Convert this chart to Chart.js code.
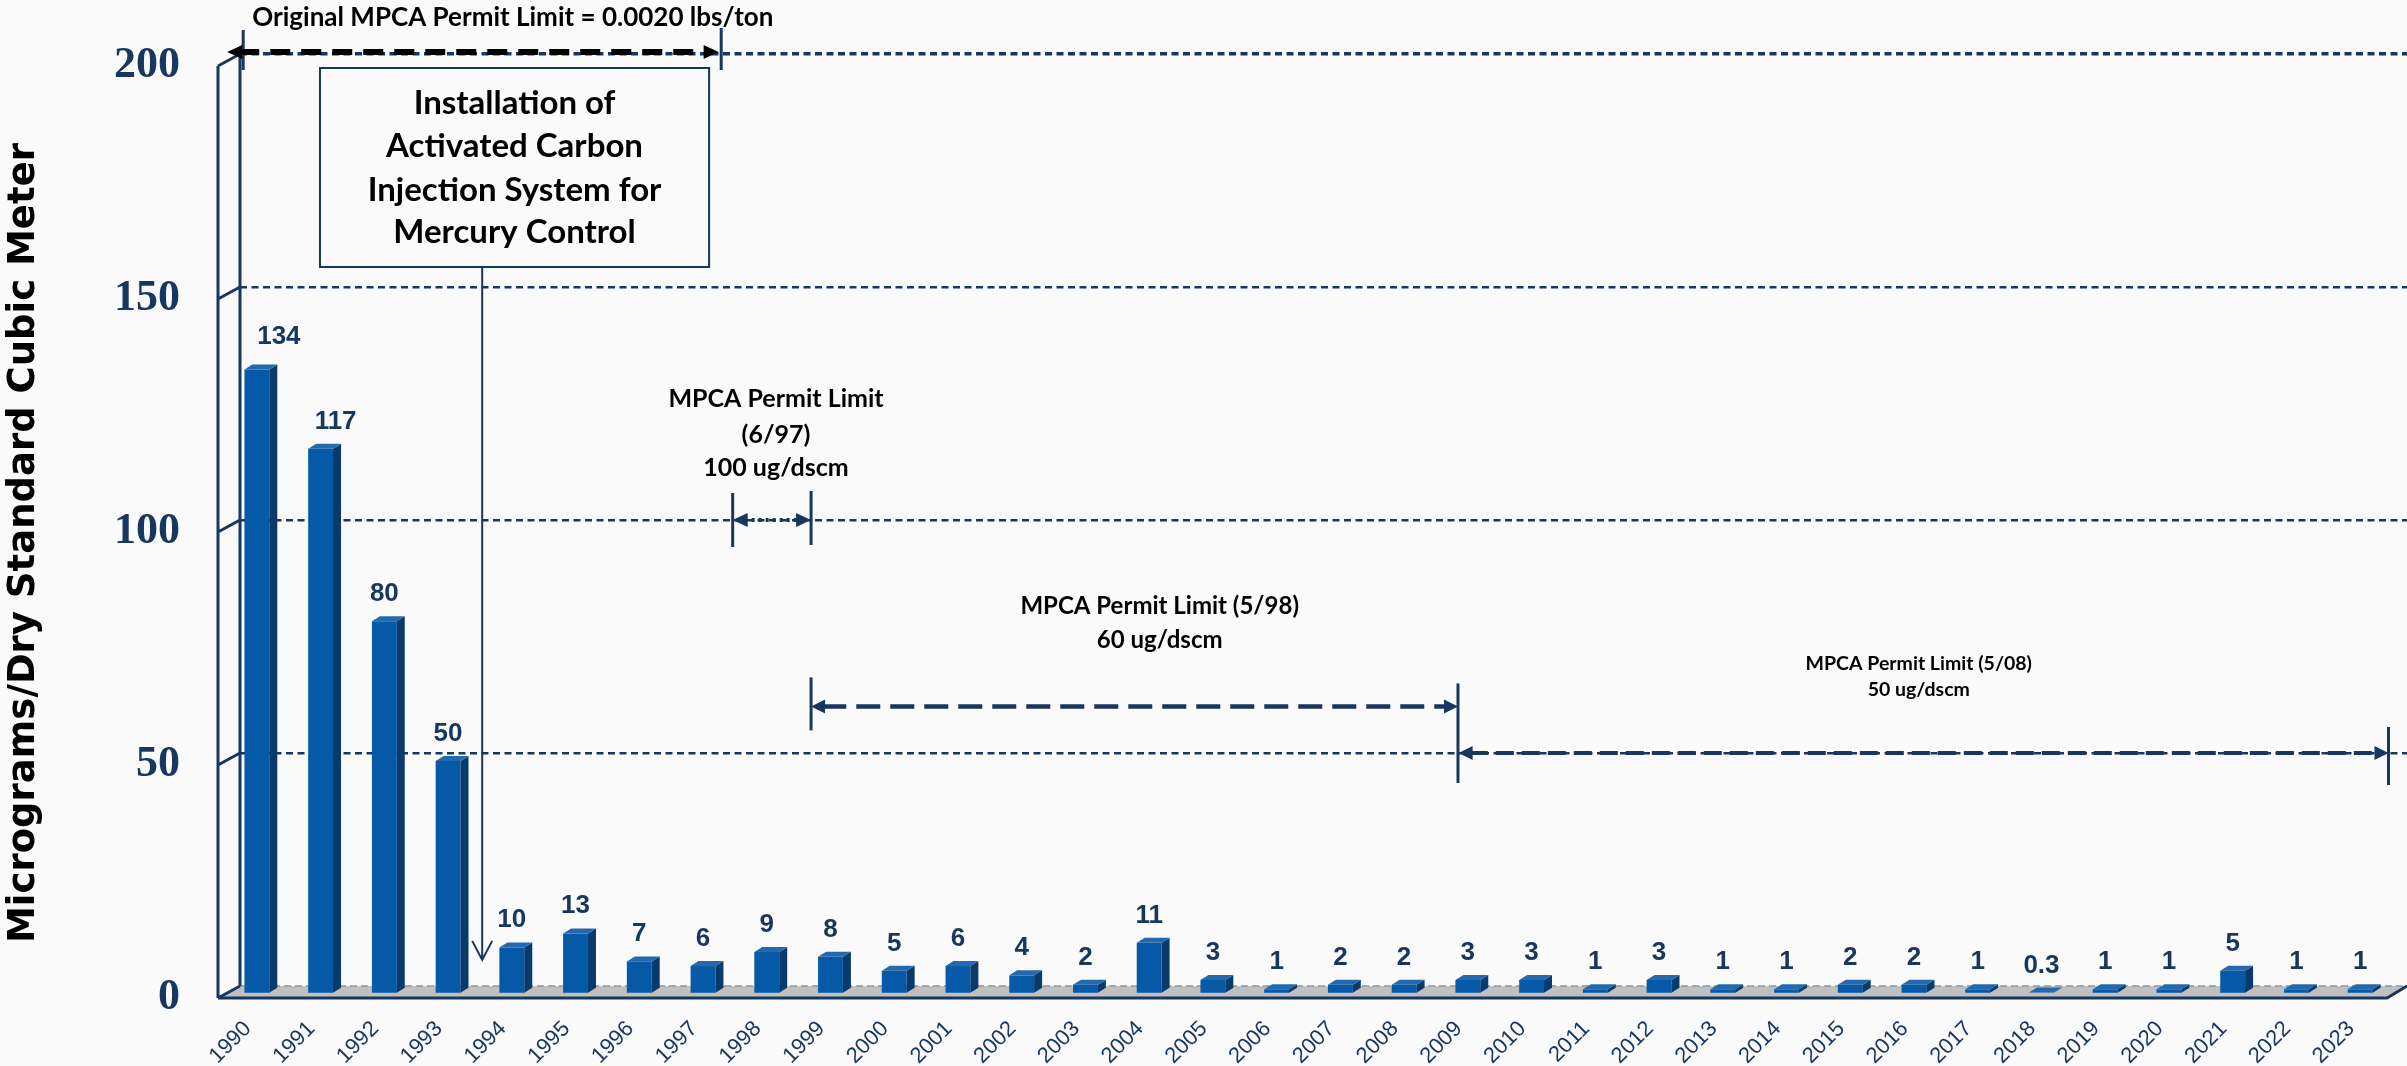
<!DOCTYPE html>
<html>
<head>
<meta charset="utf-8">
<script src="https://cdn.jsdelivr.net/npm/chart.js@4.4.1/dist/chart.umd.min.js"></script>
<style>
  html, body { margin: 0; padding: 0; background: #fafafa; }
  #wrap { width: 2407px; height: 1066px; }
</style>
</head>
<body>
<div id="wrap"><canvas id="chart" width="2407" height="1066"></canvas></div>
<script>
// Annual mercury emission test results (ug/dscm)
const years = ['1990','1991','1992','1993','1994','1995','1996','1997','1998','1999',
               '2000','2001','2002','2003','2004','2005','2006','2007','2008','2009',
               '2010','2011','2012','2013','2014','2015','2016','2017','2018','2019',
               '2020','2021','2022','2023'];
const mercury = [134, 117, 80, 50, 10, 13, 7, 6, 9, 8,
                 5, 6, 4, 2, 11, 3, 1, 2, 2, 3,
                 3, 1, 3, 1, 1, 2, 2, 1, 0.3, 1,
                 1, 5, 1, 1];
const yTicks = [0, 50, 100, 150, 200];
const axisTitle = 'Micrograms/Dry Standard Cubic Meter';

// hand-placed value labels (px nudge from the default spot above the bar)
const labelNudge = { '1990': [22, -6], '1991': [15, 0] };

const BG = '#fafafa';
const NAVY = '#17375e';
const BAR_FRONT = '#0559a7';
const BAR_SIDE = '#083a6c';
const BAR_TOP = '#2468ad';
const FLOOR = '#c0c0c0';

// pseudo-3D geometry (px)
const FLOOR_DX = 22, FLOOR_DY = 12;      // depth of the floor / side wall
const BAR_SHIFT_X = 15, BAR_SHIFT_Y = 8; // bars sit halfway into the floor
const BAR_DX = 8, BAR_DY = 5;            // bar depth

function arrowHead(ctx, tipX, y, dir, len, half) {
  ctx.beginPath();
  ctx.moveTo(tipX, y);
  ctx.lineTo(tipX + dir * len, y - half);
  ctx.lineTo(tipX + dir * len, y + half);
  ctx.closePath();
  ctx.fill();
}

function spanArrow(ctx, x1, x2, y, o) {
  ctx.save();
  ctx.strokeStyle = o.color;
  ctx.fillStyle = o.color;
  ctx.lineWidth = o.width;
  ctx.lineCap = o.cap || 'butt';
  ctx.setLineDash(o.dash);
  ctx.beginPath();
  ctx.moveTo(x1 + o.len * 0.8, y);
  ctx.lineTo(x2 - o.len * 0.8, y);
  ctx.stroke();
  ctx.setLineDash([]);
  arrowHead(ctx, x1, y, 1, o.len, o.half);
  arrowHead(ctx, x2, y, -1, o.len, o.half);
  ctx.restore();
}

function vLine(ctx, x, y1, y2, color, w) {
  ctx.save();
  ctx.strokeStyle = color;
  ctx.lineWidth = w;
  ctx.beginPath();
  ctx.moveTo(x, y1);
  ctx.lineTo(x, y2);
  ctx.stroke();
  ctx.restore();
}

function centeredText(ctx, lines, cx, ys, font, color) {
  ctx.save();
  ctx.font = font;
  ctx.fillStyle = color;
  ctx.textAlign = 'center';
  ctx.textBaseline = 'middle';
  lines.forEach((t, i) => ctx.fillText(t, cx, ys[i]));
  ctx.restore();
}

const bar3d = {
  id: 'bar3d',
  beforeDatasetsDraw(chart) {
    const { ctx, chartArea: a } = chart;
    const ys = chart.scales.y;
    const y0 = ys.getPixelForValue(0);
    const right = chart.width;

    // floor
    ctx.save();
    ctx.fillStyle = FLOOR;
    ctx.beginPath();
    ctx.moveTo(a.left, y0);
    ctx.lineTo(right, y0);
    ctx.lineTo(right - FLOOR_DX + 2, y0 + FLOOR_DY);
    ctx.lineTo(a.left - FLOOR_DX, y0 + FLOOR_DY);
    ctx.closePath();
    ctx.fill();
    // back edge of the floor
    ctx.strokeStyle = '#8c97a5';
    ctx.lineWidth = 1.5;
    ctx.setLineDash([7, 4]);
    ctx.beginPath();
    ctx.moveTo(a.left, y0);
    ctx.lineTo(right, y0);
    ctx.stroke();
    ctx.setLineDash([]);
    // front and right edges
    ctx.strokeStyle = NAVY;
    ctx.lineWidth = 3;
    ctx.beginPath();
    ctx.moveTo(a.left - FLOOR_DX, y0 + FLOOR_DY);
    ctx.lineTo(right - FLOOR_DX + 2, y0 + FLOOR_DY);
    ctx.lineTo(right, y0);
    ctx.stroke();

    // side wall: back and front verticals with a diagonal at every tick
    const yTop = ys.getPixelForValue(yTicks[yTicks.length - 1]);
    ctx.lineWidth = 3;
    ctx.beginPath();
    ctx.moveTo(a.left, yTop);
    ctx.lineTo(a.left, y0);
    ctx.moveTo(a.left - FLOOR_DX, yTop + FLOOR_DY);
    ctx.lineTo(a.left - FLOOR_DX, y0 + FLOOR_DY);
    yTicks.forEach(v => {
      const y = ys.getPixelForValue(v);
      ctx.moveTo(a.left - FLOOR_DX, y + FLOOR_DY);
      ctx.lineTo(a.left, y);
    });
    ctx.stroke();
    ctx.restore();

    ctx.save();
    ctx.translate(-BAR_SHIFT_X, BAR_SHIFT_Y);
  },
  afterDatasetsDraw(chart) {
    const { ctx } = chart;
    const meta = chart.getDatasetMeta(0);
    meta.data.forEach((bar, i) => {
      const { x, y, base, width } = bar.getProps(['x', 'y', 'base', 'width'], true);
      const l = x - width / 2, r = x + width / 2;
      // side face
      ctx.fillStyle = BAR_SIDE;
      ctx.beginPath();
      ctx.moveTo(r, y);
      ctx.lineTo(r + BAR_DX, y - BAR_DY);
      ctx.lineTo(r + BAR_DX, base - BAR_DY);
      ctx.lineTo(r, base);
      ctx.closePath();
      ctx.fill();
      // top face
      ctx.fillStyle = BAR_TOP;
      ctx.beginPath();
      ctx.moveTo(l, y);
      ctx.lineTo(l + BAR_DX, y - BAR_DY);
      ctx.lineTo(r + BAR_DX, y - BAR_DY);
      ctx.lineTo(r, y);
      ctx.closePath();
      ctx.fill();
      // value label
      const [nx, ny] = labelNudge[years[i]] || [0, 0];
      ctx.font = 'bold 26px "Liberation Sans", Arial, sans-serif';
      ctx.fillStyle = NAVY;
      ctx.textAlign = 'center';
      ctx.textBaseline = 'alphabetic';
      ctx.fillText(String(mercury[i]), x + nx, y - BAR_DY - 15 + ny);
    });
    ctx.restore();
  },
  afterDraw(chart) {
    const { ctx } = chart;
    const xs = chart.scales.x, ys = chart.scales.y;
    const step = (xs.right - xs.left) / years.length;
    const X = f => xs.left + f * step;      // position in category units
    const Y = v => ys.getPixelForValue(v);  // position in data units
    const LATO = '"Lato", "Liberation Sans", sans-serif';

    // y axis title
    ctx.save();
    ctx.translate(24, Y(100) + 23);
    ctx.rotate(-Math.PI / 2);
    ctx.font = 'bold 37px "DejaVu Sans", Verdana, sans-serif';
    ctx.fillStyle = '#000';
    ctx.textAlign = 'center';
    ctx.textBaseline = 'middle';
    ctx.fillText(axisTitle, 0, 0);
    ctx.restore();

    // original permit limit (lbs/ton)
    const yo = Y(200) - 2;
    vLine(ctx, X(0.05), yo - 22, yo + 18, NAVY, 3);
    vLine(ctx, X(7.55), yo - 24, yo + 18, NAVY, 3);
    spanArrow(ctx, X(-0.2), X(7.51), yo, { color: '#000', width: 6, dash: [20, 11], len: 15, half: 7 });
    centeredText(ctx, ['Original MPCA Permit Limit = 0.0020 lbs/ton'], X(4.28), [yo - 34],
      `bold 26px ${LATO}`, '#000');

    // carbon injection call-out
    const bl = X(1.255), br = X(7.36), bt = Y(200) + 14, bb = Y(200) + 213;
    ctx.save();
    ctx.fillStyle = BG;
    ctx.strokeStyle = NAVY;
    ctx.lineWidth = 2;
    ctx.fillRect(bl, bt, br - bl, bb - bt);
    ctx.strokeRect(bl, bt, br - bl, bb - bt);
    ctx.restore();
    centeredText(ctx, ['Installation of', 'Activated Carbon', 'Injection System for', 'Mercury Control'],
      (bl + br) / 2, [bt + 35, bt + 78, bt + 122, bt + 164], `bold 33px ${LATO}`, '#000');
    const px = X(3.8), pEnd = Y(5.6);
    ctx.save();
    ctx.strokeStyle = NAVY;
    ctx.lineWidth = 2;
    ctx.beginPath();
    ctx.moveTo(px, bb);
    ctx.lineTo(px, pEnd);
    ctx.moveTo(px - 10, pEnd - 19);
    ctx.lineTo(px, pEnd);
    ctx.lineTo(px + 10, pEnd - 19);
    ctx.stroke();
    ctx.restore();

    // 6/97 limit: 100 ug/dscm
    const y100 = Y(100);
    vLine(ctx, X(7.73), y100 - 27, y100 + 27, NAVY, 3);
    vLine(ctx, X(8.96), y100 - 29, y100 + 25, NAVY, 3);
    spanArrow(ctx, X(7.73), X(8.96), y100, { color: NAVY, width: 4, dash: [3, 4], len: 15, half: 7 });
    centeredText(ctx, ['MPCA Permit Limit', '(6/97)', '100 ug/dscm'], X(8.41),
      [y100 - 121, y100 - 85, y100 - 52], `bold 25px ${LATO}`, '#000');

    // 5/98 limit: 60 ug/dscm
    const y60 = Y(60), y50 = Y(50);
    vLine(ctx, X(8.96), y60 - 29, y60 + 24, NAVY, 3);
    vLine(ctx, X(19.11), y60 - 23, y50 + 30, NAVY, 3);
    spanArrow(ctx, X(8.96), X(19.11), y60, { color: NAVY, width: 4.5, dash: [24, 10], len: 14, half: 7 });
    centeredText(ctx, ['MPCA Permit Limit (5/98)', '60 ug/dscm'], X(14.43),
      [y60 - 100, y60 - 66], `bold 24px ${LATO}`, '#000');

    // 5/08 limit: 50 ug/dscm
    vLine(ctx, X(33.71), y50 - 26, y50 + 32, NAVY, 3);
    spanArrow(ctx, X(19.12), X(33.71), y50, { color: NAVY, width: 4, dash: [18, 8], len: 14, half: 7 });
    centeredText(ctx, ['MPCA Permit Limit (5/08)', '50 ug/dscm'], X(26.34),
      [y50 - 89, y50 - 63], `bold 19.5px ${LATO}`, '#000');
  }
};

new Chart(document.getElementById('chart'), {
  type: 'bar',
  data: {
    labels: years,
    datasets: [{
      data: mercury,
      backgroundColor: BAR_FRONT,
      borderWidth: 0,
      barPercentage: 0.39,
      categoryPercentage: 1
    }]
  },
  options: {
    responsive: false,
    animation: false,
    layout: { padding: { top: 54, right: 0, left: 0, bottom: 0 } },
    plugins: { legend: { display: false }, tooltip: { enabled: false } },
    scales: {
      x: {
        grid: { display: false },
        border: { display: false },
        ticks: {
          autoSkip: false, maxRotation: 45, minRotation: 45,
          color: NAVY,
          font: { family: '"Liberation Sans", Arial, sans-serif', size: 22 },
          labelOffset: -24,
          padding: 22
        },
        afterFit: s => { s.height = 80; s.paddingLeft = 0; s.paddingRight = 0; }
      },
      y: {
        min: 0, max: 200,
        afterBuildTicks: s => { s.ticks = yTicks.map(v => ({ value: v })); },
        ticks: {
          color: NAVY,
          font: { family: '"Liberation Serif", "Times New Roman", serif', size: 44, weight: 'bold' },
          labelOffset: 12,
          padding: 60
        },
        grid: {
          drawTicks: false,
          color: c => c.tick && c.tick.value === 0 ? 'rgba(0,0,0,0)' : NAVY,
          lineWidth: c => c.tick && c.tick.value === 200 ? 3.5 : 2.5
        },
        border: { display: false, dash: [7, 4.5] },
        afterFit: s => { s.width = 240; s.paddingTop = 0; s.paddingBottom = 0; }
      }
    }
  },
  plugins: [bar3d]
});
</script>
</body>
</html>
